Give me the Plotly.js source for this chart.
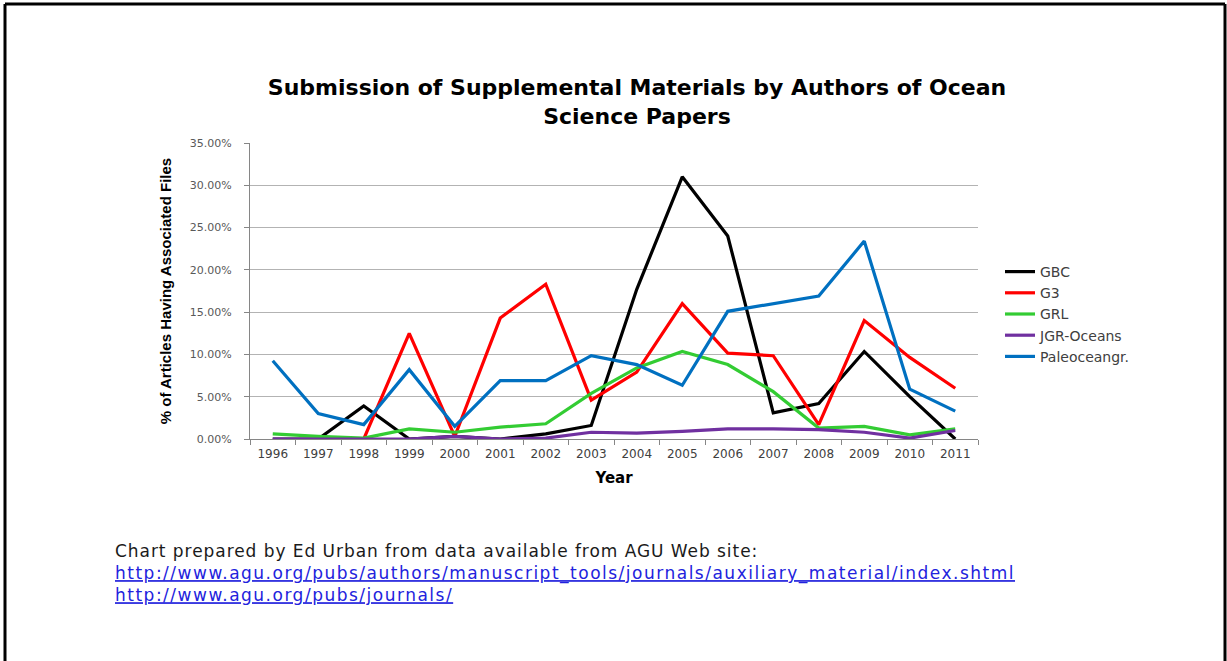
<!DOCTYPE html>
<html>
<head>
<meta charset="utf-8">
<script src="https://cdn.plot.ly/plotly-3.0.1.min.js"></script>
<style>
html,body{margin:0;padding:0;background:#fff;}
#chart{width:1227px;height:661px;}
</style>
</head>
<body>
<div id="chart"></div>
<script>
const years = ["1996","1997","1998","1999","2000","2001","2002","2003","2004","2005","2006","2007","2008","2009","2010","2011"];
const seriesNames = ["GBC","G3","GRL","JGR-Oceans","Paleoceangr."];
const gbc   = [0, 0, 3.9, 0, 0.3, 0, 0.6, 1.6, 17.7, 31.0, 24.0, 3.1, 4.2, 10.35, 5.0, 0];
const g3    = [null, null, 0, 12.5, 0.3, 14.3, 18.3, 4.6, 7.9, 16.0, 10.15, 9.85, 1.7, 14.0, 9.65, 6.0];
const grl   = [0.6, 0.3, 0.1, 1.2, 0.8, 1.4, 1.8, 5.4, 8.4, 10.35, 8.8, 5.6, 1.3, 1.5, 0.5, 1.2];
const jgr   = [0, 0, 0, 0, 0.3, 0, 0.1, 0.8, 0.7, 0.9, 1.2, 1.2, 1.1, 0.8, 0.1, 1.0];
const paleo = [9.25, 3.0, 1.7, 8.2, 1.5, 6.9, 6.9, 9.85, 8.8, 6.35, 15.1, 16.0, 16.9, 23.4, 5.9, 3.3];
const colors = ["#000000","#ff0000","#33cc33","#7030a0","#0070c0"];
const yTickVals = [0,5,10,15,20,25,30,35];
const yTickText = ["0.00%","5.00%","10.00%","15.00%","20.00%","25.00%","30.00%","35.00%"];
const footerLines = [
  "Chart prepared by Ed Urban from data available from AGU Web site:",
  "http://www.agu.org/pubs/authors/manuscript_tools/journals/auxiliary_material/index.shtml",
  "http://www.agu.org/pubs/journals/"
];

const allSeries = [gbc, g3, grl, jgr, paleo];
const traces = allSeries.map((vals, i) => ({
  type: "scatter",
  mode: "lines",
  x: years,
  y: vals,
  name: seriesNames[i],
  line: {color: colors[i], width: 3.2},
  connectgaps: false
}));

// plot area in pixels: x 250..978, y 143..439
const L = 250, R = 978, T = 143, B = 439;
const px = v => (v - L) / (R - L);
const py = v => (B - v) / (B - T);

const linkStyle = "text-decoration:underline;color:#2222dd;letter-spacing:1.5px";
const footerText = "<span style='letter-spacing:0.95px'>" + footerLines[0] + "</span><br>" +
  footerLines.slice(1).map(s => "<span style='" + linkStyle + "'>" + s + "</span>").join("<br>");

const layout = {
  width: 1227,
  height: 661,
  margin: {l: L, r: 1227 - R, t: T, b: 661 - B},
  paper_bgcolor: "#ffffff",
  plot_bgcolor: "#ffffff",
  showlegend: true,
  title: {
    text: "Submission of Supplemental Materials by Authors of Ocean<br>Science Papers",
    font: {family: "DejaVu Sans", size: 22, color: "#000000", weight: 700},
    x: 637 / 1227,
    xanchor: "center",
    xref: "container",
    y: 1 - 95 / 661,
    yanchor: "middle",
    yref: "container"
  },
  xaxis: {
    type: "category",
    range: [-0.5, 15.5],
    showgrid: false,
    zeroline: false,
    showline: true,
    linecolor: "#868686",
    linewidth: 1,
    ticks: "outside",
    tickson: "boundaries",
    ticklen: 5,
    tickcolor: "#868686",
    ticklabelstandoff: 4,
    tickfont: {family: "DejaVu Sans", size: 12, color: "#404040"},
    title: {text: "Year", font: {family: "DejaVu Sans", size: 15, color: "#000000", weight: 700}, standoff: 12},
    fixedrange: true
  },
  yaxis: {
    range: [0, 35],
    tickvals: yTickVals,
    ticktext: yTickText,
    showgrid: true,
    gridcolor: "#b3b3b3",
    gridwidth: 1.2,
    zeroline: false,
    showline: true,
    linecolor: "#868686",
    linewidth: 1,
    ticks: "outside",
    ticklen: 5,
    tickcolor: "#868686",
    ticklabelstandoff: 10,
    tickfont: {family: "DejaVu Sans", size: 11, color: "#595959"},
    title: {text: "% of Articles Having Associated Files", font: {family: "Liberation Sans", size: 15, color: "#000000", weight: 700}, standoff: 14},
    fixedrange: true
  },
  legend: {
    x: px(1000),
    xanchor: "left",
    y: py(256),
    yanchor: "top",
    font: {family: "DejaVu Sans", size: 14, color: "#404040"},
    bgcolor: "rgba(0,0,0,0)",
    borderwidth: 0,
    tracegroupgap: 0
  },
  annotations: [
    {
      xref: "paper", yref: "paper",
      x: px(113), y: py(539), xanchor: "left", yanchor: "top",
      showarrow: false, align: "left",
      text: footerText,
      font: {family: "DejaVu Sans", size: 17, color: "#1a1a1a"}
    }
  ],
  shapes: [
    {type: "line", xref: "paper", yref: "paper", x0: px(5), x1: px(5), y0: py(4), y1: py(700), line: {color: "#000", width: 3}},
    {type: "line", xref: "paper", yref: "paper", x0: px(5), x1: px(1225), y0: py(4), y1: py(4), line: {color: "#000", width: 3}},
    {type: "line", xref: "paper", yref: "paper", x0: px(1225), x1: px(1225), y0: py(4), y1: py(700), line: {color: "#000", width: 3}}
  ]
};

Plotly.newPlot("chart", traces, layout, {displayModeBar: false, staticPlot: true});
</script>
</body>
</html>
